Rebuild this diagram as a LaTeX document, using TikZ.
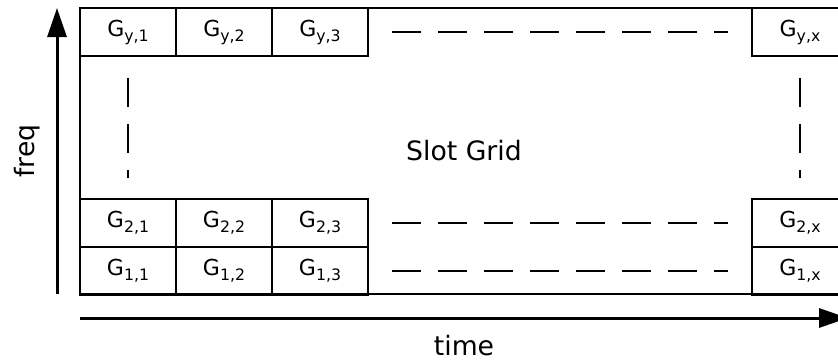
\documentclass[tikz,border=0pt]{standalone}
\usepackage{fontspec}
\setmainfont{DejaVu Sans}
\usetikzlibrary{arrows.meta, positioning}

\newcommand{\gslot}[1]{G\raisebox{-3.75pt}{\fontsize{11.8}{14}\selectfont #1}}

\begin{document}
\begin{tikzpicture}[
    x=0.75pt, y=-0.75pt,
    node distance=0pt,
    cell/.style={draw, rectangle, minimum width=72pt, minimum height=36pt, inner sep=0pt, outer sep=0pt, line width=1.1pt, font=\fontsize{16.5}{19}\selectfont},
    gridbox/.style={draw, rectangle, minimum width=576pt, minimum height=214.5pt, inner sep=0pt, outer sep=0pt, line width=1.1pt, font=\fontsize{20}{24}\selectfont},
    dashgap/.style={line width=1.1pt, dash pattern=on 21.75pt off 12.75pt},
    axisarrow/.style={-{Triangle[length=21.75pt, width=14.25pt]}, line width=2.25pt},
    lbl/.style={font=\fontsize{20}{24}\selectfont, inner sep=0pt}
]

\useasboundingbox (0,0) rectangle (838,361);
\clip (0,0) rectangle (838,361);

% Outer slot grid
\node[gridbox] (grid) at (464,151) {Slot Grid};

% Top row
\node[cell] (gy1) at (128,32) {\gslot{y,1}};
\node[cell, right=of gy1] (gy2) {\gslot{y,2}};
\node[cell, right=of gy2] (gy3) {\gslot{y,3}};
\node[cell] (gyx) at (800,32) {\gslot{y,x}};

% Bottom rows
\node[cell] (g21) at (128,223) {\gslot{2,1}};
\node[cell, right=of g21] (g22) {\gslot{2,2}};
\node[cell, right=of g22] (g23) {\gslot{2,3}};
\node[cell] (g2x) at (800,223) {\gslot{2,x}};

\node[cell, below=of g21] (g11) {\gslot{1,1}};
\node[cell, below=of g22] (g12) {\gslot{1,2}};
\node[cell, below=of g23] (g13) {\gslot{1,3}};
\node[cell, below=of g2x] (g1x) {\gslot{1,x}};

% Dashed gaps
\draw[dashgap, shorten <=18pt, shorten >=18pt] (gy3) -- (gyx);
\draw[dashgap, shorten <=18pt, shorten >=18pt] (g23) -- (g2x);
\draw[dashgap, shorten <=18pt, shorten >=18pt] (g13) -- (g1x);
\draw[dashgap, shorten <=16.5pt, shorten >=15.75pt] (gy1) -- (g21);
\draw[dashgap, shorten <=16.5pt, shorten >=15.75pt] (gyx) -- (g2x);

% Axes
\coordinate (f0) at ([xshift=-17.25pt]grid.south west);
\coordinate (f1) at ([xshift=-17.25pt]grid.north west);
\coordinate (t0) at ([yshift=-18pt]grid.south west);
\coordinate (t1) at ([yshift=-18pt]grid.south east);
\draw[axisarrow] (f0) -- (f1);
\draw[axisarrow] (t0) -- (t1);

\node[lbl, rotate=90] (freq) at (27,151) {freq};
\node[lbl] (time) at (464,346) {time};

\end{tikzpicture}
\end{document}
